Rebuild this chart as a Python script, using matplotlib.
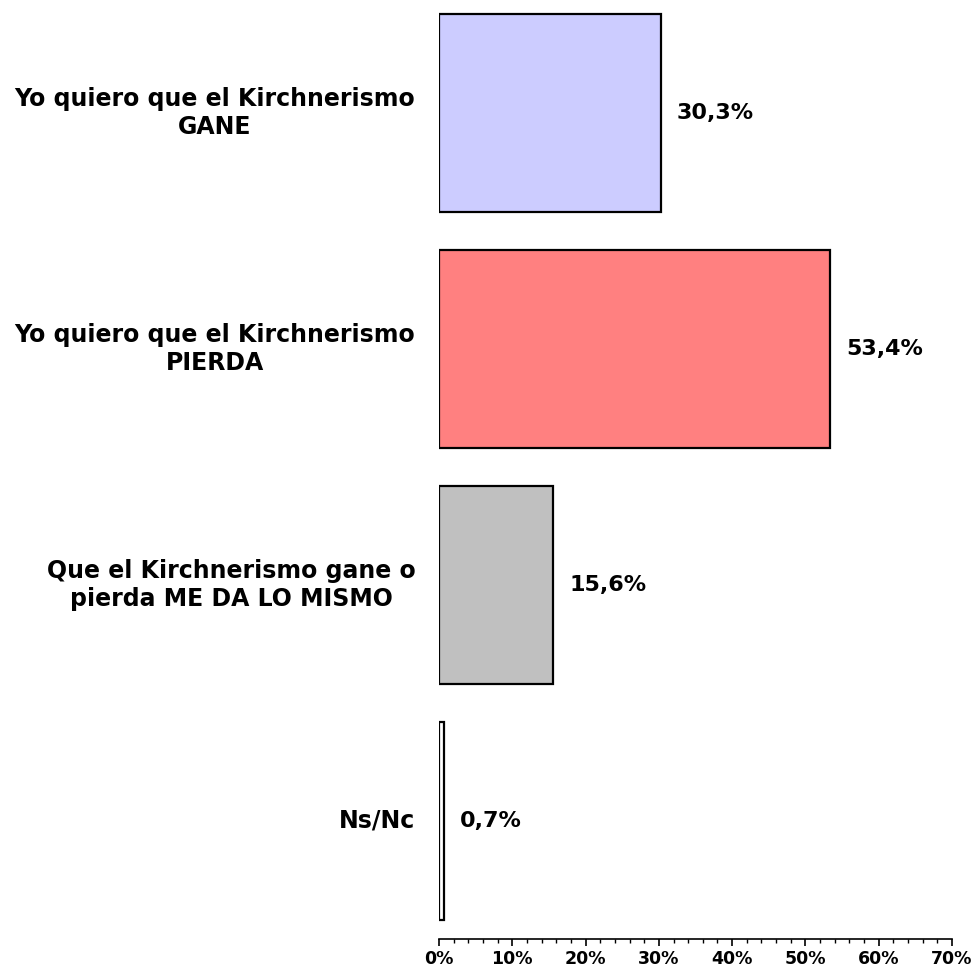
import matplotlib
matplotlib.use('Agg')
import matplotlib.pyplot as plt
from matplotlib.ticker import MultipleLocator, FuncFormatter

categories = [
    'Yo quiero que el Kirchnerismo\nGANE',
    'Yo quiero que el Kirchnerismo\nPIERDA',
    'Que el Kirchnerismo gane o\npierda ME DA LO MISMO',
    'Ns/Nc',
]
values = [30.3, 53.4, 15.6, 0.7]
value_labels = ['30,3%', '53,4%', '15,6%', '0,7%']
colors = ['#CCCCFF', '#FF8080', '#C0C0C0', '#FFFFFF']

plt.rcParams['font.family'] = ['DejaVu Sans']
plt.rcParams['font.weight'] = 'bold'

fig = plt.figure(figsize=(9.74, 9.67), dpi=100)
ax = fig.add_axes([439 / 974, 28 / 967, 513 / 974, 944 / 967])

ypos = list(range(len(values)))
ax.barh(ypos, values, height=0.835, color=colors, edgecolor='black', linewidth=1.6)

for y, v, lab in zip(ypos, values, value_labels):
    ax.annotate(lab, (v, y), xytext=(11.5, 0), textcoords='offset points',
                ha='left', va='center', fontsize=16, fontweight='bold')

for y, cat in zip(ypos, categories):
    ax.annotate(cat, (0, y), xytext=(-17, 0), textcoords='offset points',
                ha='right', va='center', fontsize=17, fontweight='bold',
                multialignment='center', linespacing=1.2)

ax.set_xlim(0, 70)
ax.set_ylim(3.5, -0.5)
ax.xaxis.set_major_locator(MultipleLocator(10))
ax.xaxis.set_minor_locator(MultipleLocator(2))
ax.xaxis.set_major_formatter(FuncFormatter(lambda x, _: f'{x:.0f}%'))
ax.tick_params(axis='x', which='major', length=5, width=1.2, labelsize=12.5, pad=3)
ax.tick_params(axis='x', which='minor', length=3, width=1)
ax.set_yticks([])
for s in ('top', 'right', 'left'):
    ax.spines[s].set_visible(False)
ax.spines['bottom'].set_linewidth(1.2)
for t in ax.get_xticklabels():
    t.set_fontweight('bold')

fig.savefig('out.png', dpi=100)
